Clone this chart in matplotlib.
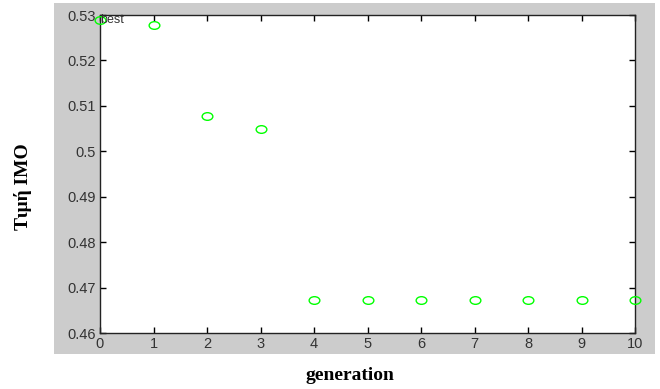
import matplotlib
matplotlib.use("Agg")
import matplotlib.pyplot as plt
from matplotlib.markers import MarkerStyle
from matplotlib.transforms import Affine2D
from matplotlib.patches import Rectangle

generations = [0, 1, 2, 3, 4, 5, 6, 7, 8, 9, 10]
best_values = [0.5289, 0.5279, 0.5078, 0.5050, 0.4672, 0.4672, 0.4672, 0.4672, 0.4672, 0.4672, 0.4672]
x_ticks = [0, 1, 2, 3, 4, 5, 6, 7, 8, 9, 10]
y_ticks = [0.46, 0.47, 0.48, 0.49, 0.50, 0.51, 0.52, 0.53]
y_tick_labels = ["0.46", "0.47", "0.48", "0.49", "0.5", "0.51", "0.52", "0.53"]

W, H = 660, 389
fig = plt.figure(figsize=(W / 100, H / 100), dpi=100)
fig.patch.set_facecolor("white")
# gray panel
rect = Rectangle((54 / W, 1 - 354 / H), (655 - 54) / W, (354 - 3) / H,
                 transform=fig.transFigure, facecolor="#cccccc",
                 edgecolor="none", zorder=-10)
fig.add_artist(rect)

ax = fig.add_axes([100 / W, 1 - 333 / H, (635 - 100) / W, (333 - 15) / H])
ax.set_zorder(5)
ax.set_facecolor("white")

m = MarkerStyle("o", fillstyle="none", transform=Affine2D().scale(1.4, 1.0))
ax.plot(generations, best_values, linestyle="none", marker=m, markersize=5.5,
        markeredgecolor="#00ff00", markeredgewidth=1.0, clip_on=False, zorder=3)
ax.text(generations[0], best_values[0], "best", fontsize=9, color="#333333",
        family="Liberation Sans", ha="left", va="center", zorder=4)

ax.set_xlim(0, 10)
ax.set_ylim(0.46, 0.53)
ax.set_xticks(x_ticks)
ax.set_yticks(y_ticks)
ax.set_yticklabels(y_tick_labels)
ax.tick_params(direction="in", top=True, right=True, length=4, width=1,
               labelsize=10.5, labelcolor="#333333", pad=3)
for lab in ax.get_xticklabels() + ax.get_yticklabels():
    lab.set_family("Liberation Sans")
for s in ax.spines.values():
    s.set_color("#222222")
    s.set_linewidth(1.0)

fig.text(23 / W, 1 - 187 / H, "Τιμή IMO", rotation=90, ha="center", va="center",
         fontsize=14, fontweight="bold", family="Liberation Serif")
fig.text(350 / W, 1 - 376 / H, "generation", ha="center", va="center",
         fontsize=14, fontweight="bold", family="Liberation Serif")

fig.savefig("out.png", dpi=100)
